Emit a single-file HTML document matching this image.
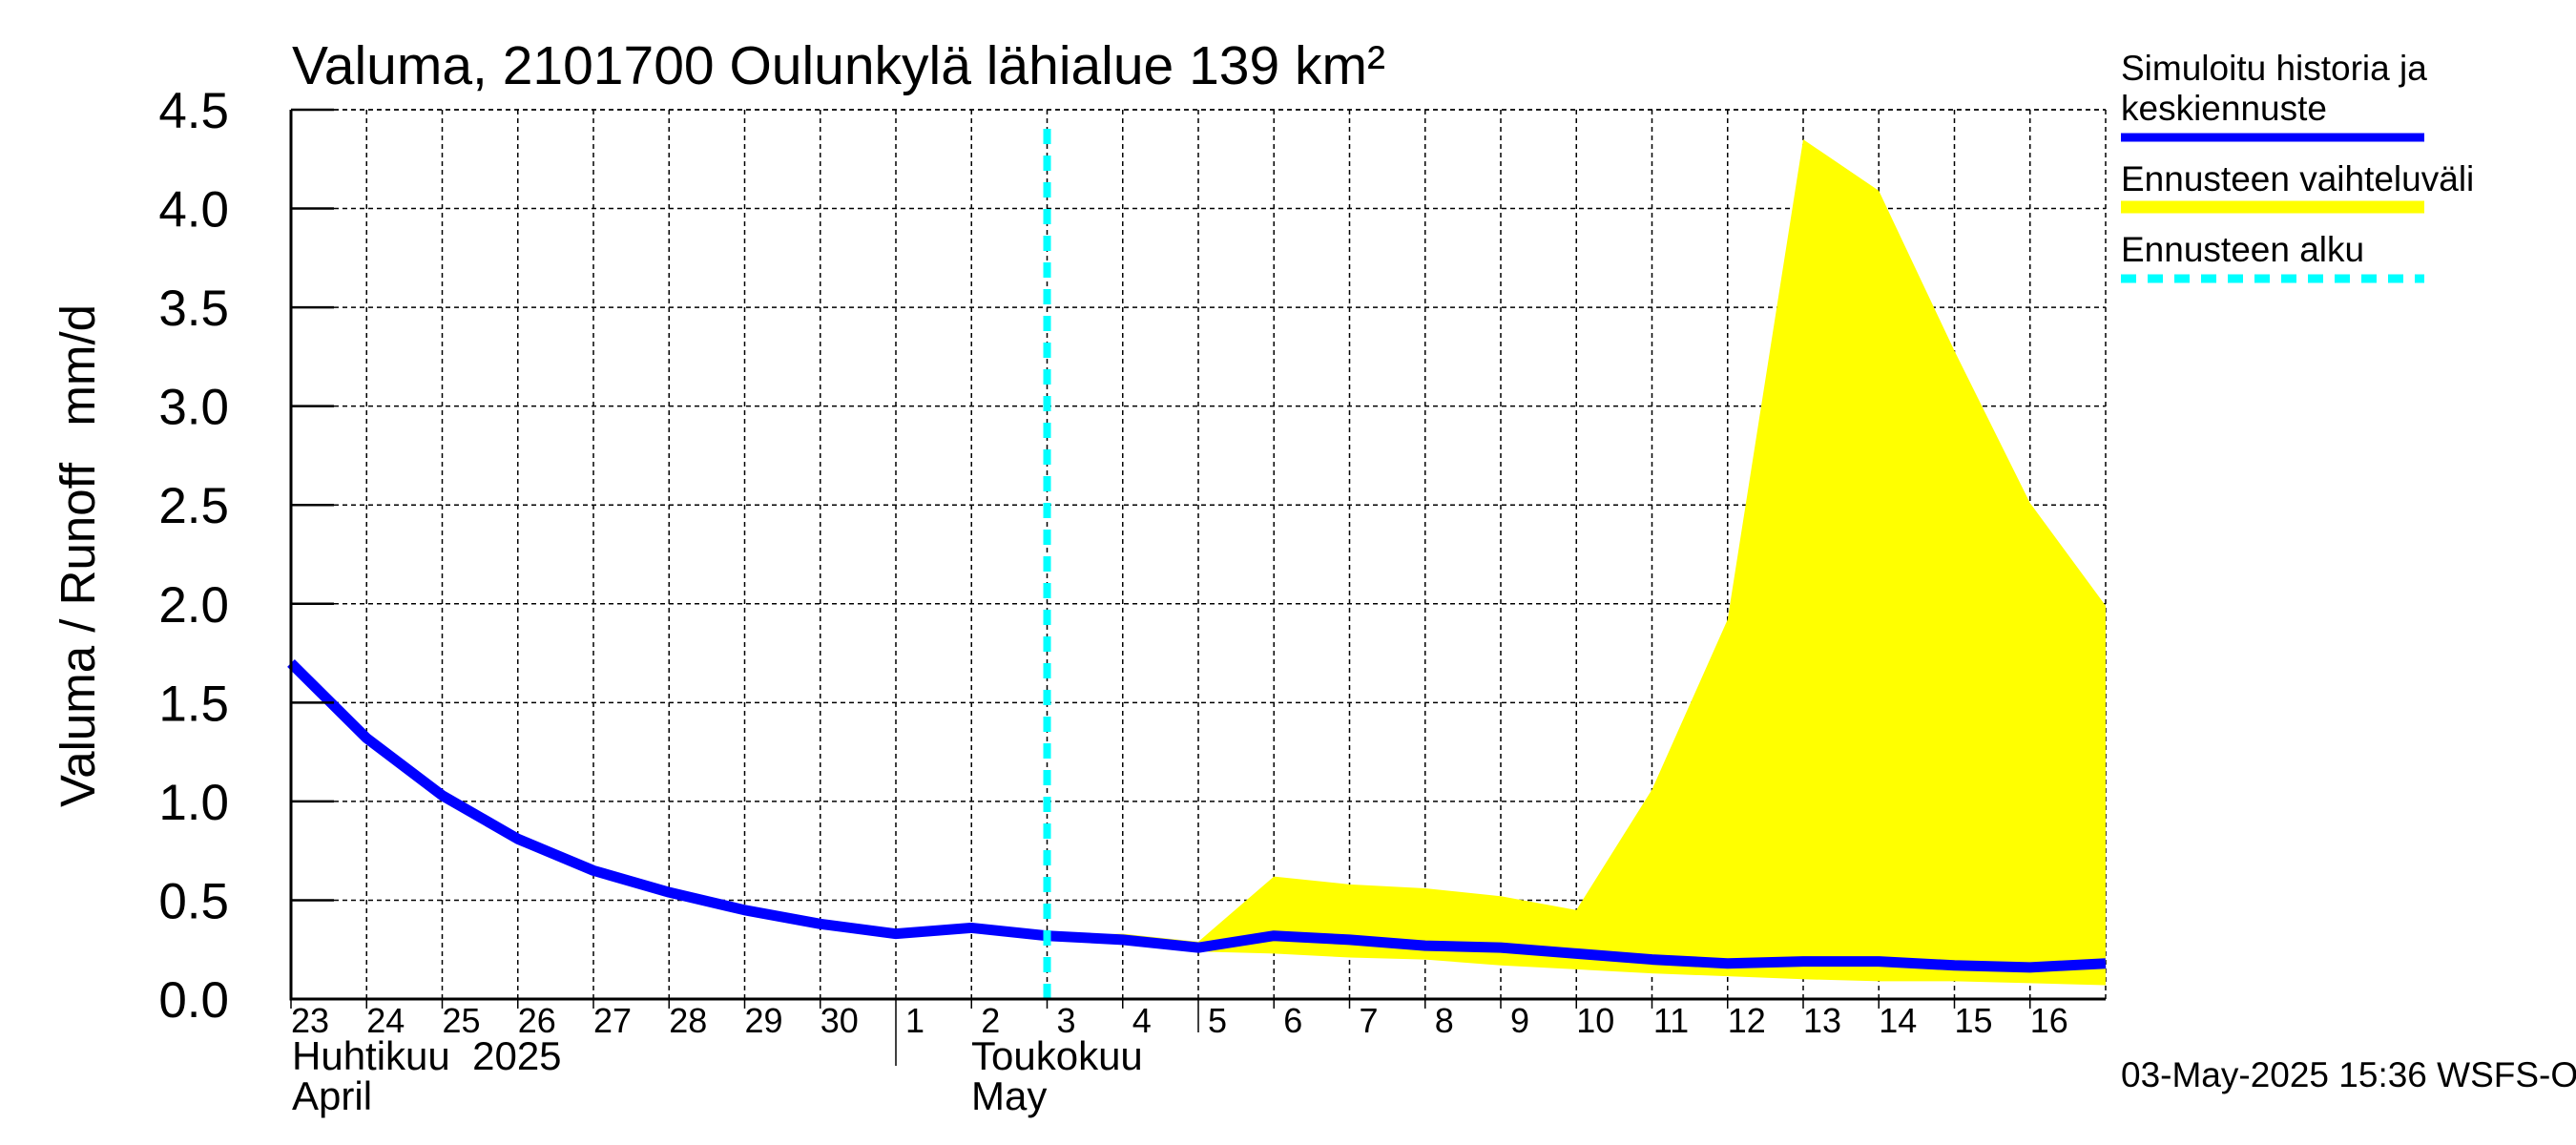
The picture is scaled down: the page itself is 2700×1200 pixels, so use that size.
<!DOCTYPE html>
<html><head><meta charset="utf-8"><style>
html,body{margin:0;padding:0;background:#fff;}
svg{display:block;font-family:"Liberation Sans",sans-serif;}
</style></head><body>
<svg id="chart" width="2700" height="1200" viewBox="0 0 2700 1200">
<g id="grid"></g>
<g id="band"></g>
<g id="marks"></g>
<g id="axes"></g>
<text x="306" y="88" font-size="57">Valuma, 2101700 Oulunkylä lähialue 139 km²</text>
<text transform="translate(99,846) rotate(-90)" text-anchor="start" font-size="51">Valuma / Runoff</text>
<text transform="translate(99,319) rotate(-90)" text-anchor="end" font-size="51">mm/d</text>
<text x="306" y="1121" font-size="42" xml:space="preserve">Huhtikuu  2025</text>
<text x="306" y="1163" font-size="42">April</text>
<text x="1018" y="1121" font-size="42">Toukokuu</text>
<text x="1018" y="1163" font-size="42">May</text>
<g>
<text x="2223" y="84" font-size="37">Simuloitu historia ja</text>
<text x="2223" y="126" font-size="37">keskiennuste</text>
<line x1="2223" y1="144" x2="2541" y2="144" stroke="#0000ff" stroke-width="9"/>
<text x="2223" y="200" font-size="37">Ennusteen vaihteluväli</text>
<line x1="2223" y1="217" x2="2541" y2="217" stroke="#ffff00" stroke-width="13"/>
<text x="2223" y="274" font-size="37">Ennusteen alku</text>
<line x1="2223" y1="292" x2="2541" y2="292" stroke="#00ffff" stroke-width="9" stroke-dasharray="16 12"/>
</g>
<text x="2223" y="1139" font-size="37">03-May-2025 15:36 WSFS-O</text>
</svg>
<script>
const dayLabels = ["23","24","25","26","27","28","29","30","1","2","3","4","5","6","7","8","9","10","11","12","13","14","15","16"];
const yTicks = ["0.0","0.5","1.0","1.5","2.0","2.5","3.0","3.5","4.0","4.5"];
const simulated = [1.70,1.32,1.03,0.81,0.65,0.54,0.45,0.38,0.33,0.36,0.32,0.30,0.26,0.32,0.30,0.27,0.26,0.23,0.20,0.18,0.19,0.19,0.17,0.16,0.18];
const bandStart = 10;
const bandUpper = [0.32,0.33,0.29,0.62,0.58,0.56,0.52,0.45,1.06,1.92,4.35,4.09,3.28,2.51,1.99];
const bandLower = [0.30,0.28,0.24,0.23,0.21,0.20,0.17,0.15,0.13,0.115,0.10,0.09,0.09,0.08,0.07];
const forecastStartDay = 10;

const NS="http://www.w3.org/2000/svg";
const X0=305, X1=2207, Y0=1047, Y1=115, NDAYS=24, YMAX=4.5;
const xs=d=>X0+(X1-X0)*d/NDAYS;
const ys=v=>Y0-(Y0-Y1)*v/YMAX;
function mk(tag,attrs,parent){const e=document.createElementNS(NS,tag);for(const k in attrs)e.setAttribute(k,attrs[k]);parent.appendChild(e);return e;}
const grid=document.getElementById('grid'),axes=document.getElementById('axes'),band=document.getElementById('band'),marks=document.getElementById('marks');

yTicks.forEach((t,i)=>{
  const v=parseFloat(t), y=ys(v);
  if(i>0){const g=mk('line',{x1:X0,y1:y,x2:X1,y2:y,stroke:'#000','stroke-width':1.5,'stroke-dasharray':'5 4'},grid);
  
  }
  const tk=mk('line',{x1:X0,y1:y,x2:X0+45,y2:y,stroke:'#000','stroke-width':2.5},axes);
  
  
  const tx=mk('text',{x:240,y:y+19,'text-anchor':'end','font-size':53},axes);
  tx.textContent=t;
  
  
});
dayLabels.forEach((l,i)=>{
  const x=xs(i);
  if(i>0){const g=mk('line',{x1:x,y1:Y1,x2:x,y2:Y0,stroke:'#000','stroke-width':1.5,'stroke-dasharray':'5 4'},grid);
  
  }
  const long = l==="1" ? 1117 : (l==="5" ? 1082 : 1057);
  const tk=mk('line',{x1:x,y1:Y0,x2:x,y2:long,stroke:'#000','stroke-width':1.5},axes);
  
  
  const tx=mk('text',{x:x+20,y:1082,'text-anchor':'middle','font-size':36},axes);
  tx.textContent=l;
  
  
});
const rt=mk('line',{x1:X1,y1:Y1,x2:X1,y2:Y0,stroke:'#000','stroke-width':1.5,'stroke-dasharray':'5 4'},grid);


const tp=mk('line',{x1:X0,y1:Y1,x2:X1,y2:Y1,stroke:'#000','stroke-width':1.5,'stroke-dasharray':'5 4'},grid);



let pts=[];
bandUpper.forEach((v,i)=>pts.push(xs(bandStart+i)+','+ys(v)));
for(let i=bandLower.length-1;i>=0;i--)pts.push(xs(bandStart+i)+','+ys(bandLower[i]));
const poly=mk('polygon',{points:pts.join(' '),fill:'#ffff00'},band);



const line=mk('polyline',{points:simulated.map((v,i)=>xs(i)+','+ys(v)).join(' '),fill:'none',stroke:'#0000ff','stroke-width':11,'stroke-linejoin':'round'},marks);



const fx=xs(forecastStartDay);
const fl=mk('line',{x1:fx,y1:Y0,x2:fx,y2:123,stroke:'#00ffff','stroke-width':8,'stroke-dasharray':'16 12'},marks);



const ax=mk('path',{d:`M${X0},${Y1} V${Y0} H${X1}`,fill:'none',stroke:'#000','stroke-width':3},axes);


</script>
</body></html>
